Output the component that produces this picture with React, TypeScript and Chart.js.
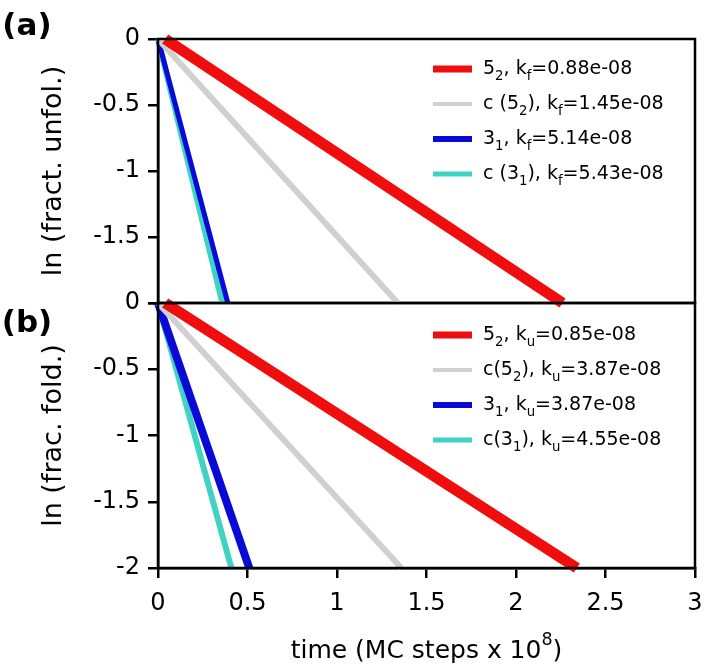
import { useEffect, useRef } from "react";
import { Chart, registerables } from "chart.js";

Chart.register(...registerables);

// ---------- data ----------
const xTickValues = [0, 0.5, 1, 1.5, 2, 2.5, 3];
const yTickValues = [0, -0.5, -1, -1.5, -2];

const seriesColors = ["#f00d0d", "#d0d0d0", "#0a0ad6", "#40d2c2"];

// panel (a): ln (fract. unfol.)
const a52X = [0.04, 2.26];
const a52Y = [0, -2];
const ac52X = [0, 1.34];
const ac52Y = [0, -2];
const a31X = [0, 0.39];
const a31Y = [0, -2];
const ac31X = [0, 0.36];
const ac31Y = [0, -2];
const aLabels = [
  "5_{2}, k_{f}=0.88e-08",
  "c (5_{2}), k_{f}=1.45e-08",
  "3_{1}, k_{f}=5.14e-08",
  "c (3_{1}), k_{f}=5.43e-08",
];

// panel (b): ln (frac. fold.)
const b52X = [0.04, 2.34];
const b52Y = [0, -2];
const bc52X = [0, 1.36];
const bc52Y = [0, -2];
const b31X = [0, 0.51];
const b31Y = [0, -2];
const bc31X = [0, 0.41];
const bc31Y = [0, -2];
const bLabels = [
  "5_{2}, k_{u}=0.85e-08",
  "c(5_{2}), k_{u}=3.87e-08",
  "3_{1}, k_{u}=3.87e-08",
  "c(3_{1}), k_{u}=4.55e-08",
];

const FONT = "'DejaVu Sans', 'Liberation Sans', Arial, sans-serif";

// ---------- rich text ----------
type Part = { t: string; s: number };
function parseRich(str: string): Part[] {
  const parts: Part[] = [];
  const re = /([_^])\{([^}]*)\}/g;
  let last = 0;
  let m: RegExpExecArray | null;
  while ((m = re.exec(str))) {
    if (m.index > last) parts.push({ t: str.slice(last, m.index), s: 0 });
    parts.push({ t: m[2], s: m[1] === "_" ? -1 : 1 });
    last = re.lastIndex;
  }
  if (last < str.length) parts.push({ t: str.slice(last), s: 0 });
  return parts;
}
function drawRich(
  ctx: CanvasRenderingContext2D,
  str: string,
  x: number,
  y: number,
  size: number,
  align: "left" | "center",
  weight = "normal"
) {
  const parts = parseRich(str);
  const small = size * 0.7;
  const fontFor = (p: Part) => `${weight} ${p.s ? small : size}px ${FONT}`;
  let w = 0;
  for (const p of parts) {
    ctx.font = fontFor(p);
    w += ctx.measureText(p.t).width;
  }
  let cx = align === "center" ? x - w / 2 : x;
  ctx.textBaseline = "middle";
  ctx.textAlign = "left";
  ctx.fillStyle = "#000";
  for (const p of parts) {
    ctx.font = fontFor(p);
    const dy = p.s === -1 ? size * 0.38 : p.s === 1 ? -size * 0.42 : 0;
    ctx.fillText(p.t, cx, y + dy);
    cx += ctx.measureText(p.t).width;
  }
}

type Deco = {
  panel: string;
  panelY: number;
  yTitle: string;
  labels: string[];
  legendY: number[];
  legendW: number[];
  xTitle?: string;
};

const decoPlugin = {
  id: "deco",
  afterDraw(chart: any) {
    const d: Deco = chart.options.plugins.deco;
    const ctx: CanvasRenderingContext2D = chart.ctx;
    const ca = chart.chartArea;
    ctx.save();
    // frame
    ctx.strokeStyle = "#000";
    ctx.lineWidth = 2.5;
    ctx.strokeRect(ca.left, ca.top, ca.right - ca.left, ca.bottom - ca.top);
    // panel label
    drawRich(ctx, d.panel, 27, d.panelY, 31, "center", "bold");
    // y title
    ctx.save();
    ctx.translate(54, (ca.top + ca.bottom) / 2);
    ctx.rotate(-Math.PI / 2);
    drawRich(ctx, d.yTitle, 0, 0, 27, "center");
    ctx.restore();
    // x title
    if (d.xTitle) drawRich(ctx, d.xTitle, (ca.left + ca.right) / 2, 651, 25, "center");
    // legend
    d.labels.forEach((lab, i) => {
      const y = d.legendY[i];
      ctx.beginPath();
      ctx.strokeStyle = seriesColors[i];
      ctx.lineWidth = d.legendW[i];
      ctx.lineCap = "butt";
      ctx.moveTo(433, y);
      ctx.lineTo(472, y);
      ctx.stroke();
      drawRich(ctx, lab, 483, y, 19, "left");
    });
    ctx.restore();
  },
};

function pts(xs: number[], ys: number[]) {
  return xs.map((x, i) => ({ x, y: ys[i] }));
}

function makeDatasets(series: [number[], number[]][], widths: number[], labels: string[]) {
  return series.map((s, i) => ({
    label: labels[i],
    data: pts(s[0], s[1]),
    borderColor: seriesColors[i],
    backgroundColor: seriesColors[i],
    borderWidth: widths[i],
    pointRadius: 0,
    tension: 0,
    fill: false,
    borderCapStyle: "butt",
    clip: 5,
  }));
}

function yScale(hideBottom: boolean) {
  return {
    type: "linear",
    min: -2,
    max: 0,
    afterBuildTicks: (s: any) => {
      s.ticks = yTickValues.map((v) => ({ value: v }));
    },
    afterFit: (s: any) => {
      s.width = 158;
      s.paddingTop = 0;
      s.paddingBottom = 0;
    },
    ticks: {
      color: "#000",
      font: { family: FONT, size: 24 },
      padding: 8,
      callback: (v: number) => (hideBottom && v === -2 ? "" : String(v)),
    },
    grid: {
      drawOnChartArea: false,
      drawTicks: true,
      tickLength: 10,
      color: "#000",
      lineWidth: 2.5,
    },
    border: { display: true, color: "#000", width: 2.5 },
  };
}

function PanelChart({ which }: { which: "a" | "b" }) {
  const ref = useRef<HTMLCanvasElement>(null);
  useEffect(() => {
    if (!ref.current) return;
    const isA = which === "a";
    const series: [number[], number[]][] = isA
      ? [[a52X, a52Y], [ac52X, ac52Y], [a31X, a31Y], [ac31X, ac31Y]]
      : [[b52X, b52Y], [bc52X, bc52Y], [b31X, b31Y], [bc31X, bc31Y]];
    const widths = isA ? [11, 6, 5, 6] : [11, 6, 8, 6];
    const labels = isA ? aLabels : bLabels;
    const deco: Deco = isA
      ? {
          panel: "(a)",
          panelY: 27,
          yTitle: "ln (fract. unfol.)",
          labels,
          legendY: [69, 104, 139, 174],
          legendW: [7, 4, 6, 5],
        }
      : {
          panel: "(b)",
          panelY: 324,
          yTitle: "ln (frac. fold.)",
          labels,
          legendY: [335, 370, 405, 440],
          legendW: [7, 4, 6, 5],
          xTitle: "time (MC steps x 10^{8})",
        };
    const chart = new Chart(ref.current, {
      type: "line",
      data: { datasets: makeDatasets(series, widths, labels) as any },
      plugins: [decoPlugin],
      options: {
        animation: false,
        responsive: false,
        devicePixelRatio: 1,
        events: [],
        layout: {
          padding: isA
            ? { top: 39, right: 12, bottom: 672 - 303, left: 0 }
            : { top: 303, right: 12, bottom: 0, left: 0 },
        },
        plugins: {
          legend: { display: false },
          tooltip: { enabled: false },
          deco,
        } as any,
        scales: {
          x: isA
            ? { type: "linear", min: 0, max: 3, display: false }
            : {
                type: "linear",
                min: 0,
                max: 3,
                afterBuildTicks: (s: any) => {
                  s.ticks = xTickValues.map((v) => ({ value: v }));
                },
                afterFit: (s: any) => {
                  s.height = 672 - 568;
                  s.paddingLeft = 0;
                  s.paddingRight = 0;
                },
                ticks: {
                  color: "#000",
                  font: { family: FONT, size: 24 },
                  padding: 11,
                  maxRotation: 0,
                  callback: (v: number) => String(v),
                },
                grid: {
                  drawOnChartArea: false,
                  drawTicks: true,
                  tickLength: 10,
                  color: "#000",
                  lineWidth: 2.5,
                },
                border: { display: true, color: "#000", width: 2.5 },
              },
          y: yScale(isA),
        } as any,
      },
    });
    return () => chart.destroy();
  }, [which]);
  return (
    <canvas
      ref={ref}
      width={707}
      height={672}
      style={{ position: "absolute", left: 0, top: 0, width: 707, height: 672 }}
    />
  );
}

export default function App() {
  return (
    <div
      style={{
        position: "absolute",
        left: 0,
        top: 0,
        width: 707,
        height: 672,
        background: "#fff",
      }}
    >
      <PanelChart which="b" />
      <PanelChart which="a" />
    </div>
  );
}
